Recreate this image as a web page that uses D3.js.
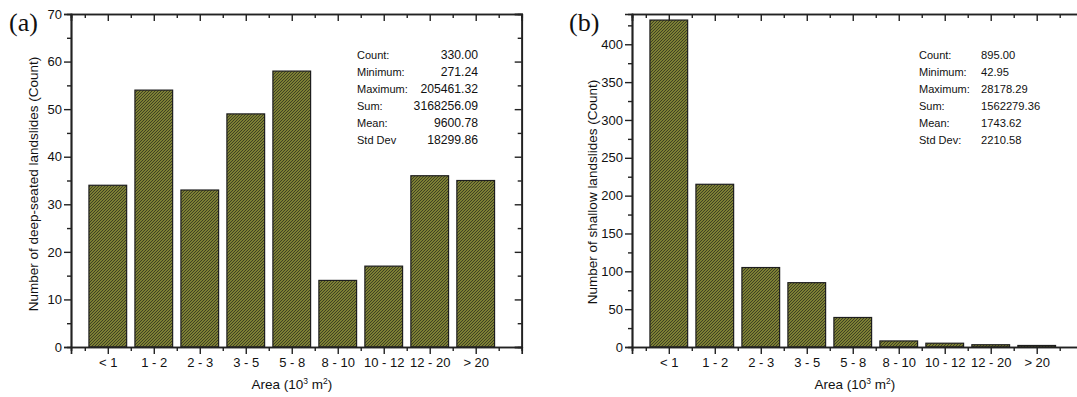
<!DOCTYPE html>
<html>
<head>
<meta charset="utf-8">
<script src="https://cdn.jsdelivr.net/npm/d3@7"></script>
<style>
  html, body { margin: 0; padding: 0; background: #fff; }
  svg { display: block; font-family: "Liberation Sans", Arial, sans-serif; }
</style>
</head>
<body>
<svg id="chart" width="1077" height="397"></svg>
<script>
// ---------- data ----------
const categories = ["< 1", "1 - 2", "2 - 3", "3 - 5", "5 - 8", "8 - 10", "10 - 12", "12 - 20", "> 20"];
const deepCounts = [34, 54, 33, 49, 58, 14, 17, 36, 35];
const shallowCounts = [432, 215, 105, 85, 39, 8, 5, 3, 2];
const deepTicks = [0, 10, 20, 30, 40, 50, 60, 70];
const deepMinorTicks = [5, 15, 25, 35, 45, 55, 65];
const shallowTicks = [0, 50, 100, 150, 200, 250, 300, 350, 400];
const shallowMinorTicks = [25, 75, 125, 175, 225, 275, 325, 375, 425];
const deepStatLabels = ["Count:", "Minimum:", "Maximum:", "Sum:", "Mean:", "Std Dev"];
const deepStatValues = ["330.00", "271.24", "205461.32", "3168256.09", "9600.78", "18299.86"];
const shallowStatLabels = ["Count:", "Minimum:", "Maximum:", "Sum:", "Mean:", "Std Dev:"];
const shallowStatValues = ["895.00", "42.95", "28178.29", "1562279.36", "1743.62", "2210.58"];

const svg = d3.select("#chart");

// hatch pattern
const defs = svg.append("defs");
const pat = defs.append("pattern")
  .attr("id", "hatch").attr("patternUnits", "userSpaceOnUse")
  .attr("width", 3).attr("height", 3);
pat.append("rect").attr("width", 3).attr("height", 3).attr("fill", "#979b3b");
pat.append("path")
  .attr("d", "M-1,1 L1,-1 M0,3 L3,0 M2,4 L4,2")
  .attr("stroke", "#3a3c22").attr("stroke-width", 1.1);

function drawPanel(cfg) {
  const g = svg.append("g");
  const x = d3.scaleLinear().domain([0.2, 10]).range([cfg.left, cfg.left + 450.7]);
  const y = d3.scaleLinear().domain([0, cfg.yMax]).range([347, 14]);
  const idx = d3.range(1, categories.length + 1);
  const halfW = 0.41;

  // bars
  g.selectAll("rect.bar").data(cfg.values).enter().append("rect")
    .attr("class", "bar")
    .attr("x", (d, i) => x(i + 1 - halfW))
    .attr("width", (d, i) => x(i + 1 + halfW) - x(i + 1 - halfW))
    .attr("y", d => y(d))
    .attr("height", d => y(0) - y(d))
    .attr("fill", "url(#hatch)")
    .attr("stroke", "#1e1e1e").attr("stroke-width", 1.2);

  const styleAxis = sel => {
    sel.selectAll("path.domain").attr("stroke", "#222").attr("stroke-width", 1.7);
    sel.selectAll(".tick line").attr("stroke", "#222").attr("stroke-width", 1.4);
    sel.selectAll(".tick text").attr("fill", "#111").style("font-size", "13px")
      .style("font-family", "'Liberation Sans', Arial, sans-serif");
  };

  // left axis
  g.append("g").attr("transform", `translate(${x(0.2)},0)`)
    .call(d3.axisLeft(y).tickValues(cfg.minorTicks).tickSize(4).tickFormat(""))
    .call(styleAxis);
  g.append("g").attr("transform", `translate(${x(0.2)},0)`)
    .call(d3.axisLeft(y).tickValues(cfg.ticks).tickSize(7).tickPadding(2).tickFormat(d3.format("d")))
    .call(styleAxis);
  // right axis (ticks inward)
  if (cfg.rightAxis) {
    g.append("g").attr("transform", `translate(${x(10)},0)`)
      .call(d3.axisLeft(y).tickValues(cfg.minorTicks).tickSize(4).tickFormat(""))
      .call(styleAxis);
    g.append("g").attr("transform", `translate(${x(10)},0)`)
      .call(d3.axisLeft(y).tickValues(cfg.ticks).tickSize(7).tickFormat(""))
      .call(styleAxis);
  }
  // bottom axis
  const minorX = d3.range(0.5, 10, 1);
  g.append("g").attr("transform", `translate(0,${y(0)})`)
    .call(d3.axisBottom(x).tickValues(minorX).tickSize(4).tickFormat(""))
    .call(styleAxis);
  g.append("g").attr("transform", `translate(0,${y(0)})`)
    .call(d3.axisBottom(x).tickValues(idx).tickSize(7).tickPadding(4)
      .tickFormat((d) => categories[d - 1]))
    .call(styleAxis);
  // top axis (ticks inward)
  g.append("g").attr("transform", `translate(0,${y(cfg.yMax)})`)
    .call(d3.axisBottom(x).tickValues(minorX).tickSize(4).tickFormat(""))
    .call(styleAxis);
  g.append("g").attr("transform", `translate(0,${y(cfg.yMax)})`)
    .call(d3.axisBottom(x).tickValues(idx).tickSize(7).tickFormat(""))
    .call(styleAxis);

  // axis titles
  const xt = g.append("text").attr("x", x(5) + cfg.xTitleShift)
    .attr("y", 389).attr("text-anchor", "middle").style("font-size", "13.5px").attr("fill", "#111");
  xt.append("tspan").text("Area (10");
  xt.append("tspan").text("3").style("font-size", "8.5px").attr("dy", -5);
  xt.append("tspan").text(" m").attr("dy", 5);
  xt.append("tspan").text("2").style("font-size", "8.5px").attr("dy", -5);
  xt.append("tspan").text(")").attr("dy", 5);

  g.append("text")
    .attr("transform", `translate(${cfg.yTitleX},${cfg.yTitleY}) rotate(-90)`)
    .attr("text-anchor", "middle").style("font-size", "13.5px").attr("fill", "#111")
    .text(cfg.yTitle);

  // panel label
  g.append("text").attr("x", cfg.labelX).attr("y", 31)
    .style("font-family", "'Liberation Serif', 'Times New Roman', serif")
    .style("font-size", "26px").attr("fill", "#111").text(cfg.panel);

  // stats
  const st = g.append("g").attr("fill", "#111");
  cfg.statLabels.forEach((lab, i) => {
    st.append("text").attr("x", cfg.statX).attr("y", 59 + i * 17)
      .style("font-size", "11px").text(lab);
    st.append("text").attr("x", cfg.valX).attr("y", 59 + i * 17)
      .style("font-size", cfg.valSize)
      .attr("text-anchor", cfg.valAnchor).text(cfg.statValues[i]);
  });
}

drawPanel({
  left: 71, yMax: 70, values: deepCounts, ticks: deepTicks, minorTicks: deepMinorTicks,
  yTitle: "Number of deep-seated landslides (Count)", yTitleX: 38, yTitleY: 184,
  panel: "(a)", labelX: 9, statLabels: deepStatLabels, statValues: deepStatValues,
  statX: 357, valX: 478, valAnchor: "end", valSize: "12.2px", xTitleShift: 0, rightAxis: true
});
drawPanel({
  left: 632, yMax: 440, values: shallowCounts, ticks: shallowTicks, minorTicks: shallowMinorTicks,
  yTitle: "Number of shallow landslides (Count)", yTitleX: 597, yTitleY: 192,
  panel: "(b)", labelX: 569, statLabels: shallowStatLabels, statValues: shallowStatValues,
  statX: 919, valX: 981, valAnchor: "start", valSize: "11.2px", xTitleShift: 2, rightAxis: false
});
</script>
</body>
</html>
